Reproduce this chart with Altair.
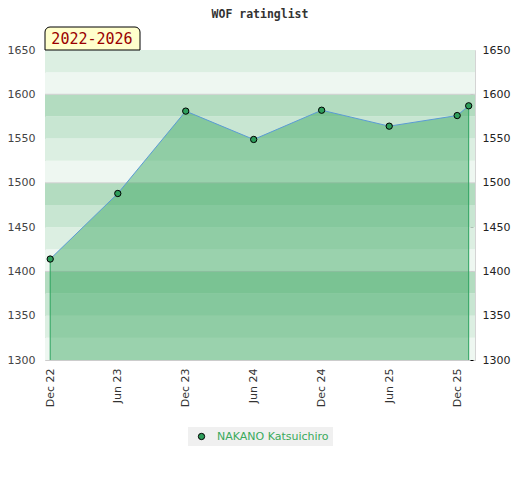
import altair as alt
import pandas as pd

# ---- data ----
dates = ["2022-12-01", "2023-06-01", "2023-12-01", "2024-06-01",
         "2024-12-01", "2025-06-01", "2025-12-01", "2026-01-01"]
ratings = [1414, 1488, 1581, 1549, 1582, 1564, 1576, 1587]
player = "NAKANO Katsuichiro"
period_label = "2022-2026"

band_lo = [1300, 1325, 1350, 1375, 1400, 1425, 1450, 1475,
           1500, 1525, 1550, 1575, 1600, 1625]
band_hi = [1325, 1350, 1375, 1400, 1425, 1450, 1475, 1500,
           1525, 1550, 1575, 1600, 1625, 1650]
band_shade = ["#eef7f1", "#dcefe2", "#c8e6d2", "#b3dcc0"] * 3 + ["#eef7f1", "#dcefe2"]
grid_levels = [1400, 1500, 1600]

y_labels = [1300, 1350, 1400, 1450, 1500, 1550, 1600, 1650]
y_minor = [1300, 1310, 1320, 1330, 1340, 1350, 1360, 1370, 1380, 1390,
           1400, 1410, 1420, 1430, 1440, 1450, 1460, 1470, 1480, 1490,
           1500, 1510, 1520, 1530, 1540, 1550, 1560, 1570, 1580, 1590,
           1600, 1610, 1620, 1630, 1640, 1650]
x_tick_months = [(2022, 12), (2023, 6), (2023, 12), (2024, 6),
                 (2024, 12), (2025, 6), (2025, 12)]

df = pd.DataFrame({"date": dates, "rating": ratings, "player": player})
edges = df.iloc[[0, len(df) - 1]]
bands = pd.DataFrame({"lo": band_lo, "hi": band_hi, "shade": band_shade})
grid = pd.DataFrame({"level": grid_levels})
label_df = pd.DataFrame({"label": [period_label]})

W, H = 430, 310
FONT = "DejaVu Sans"

yscale = alt.Scale(domain=[1300, 1650], zero=False, nice=False)
xscale = alt.Scale(type="utc", domain=[
    alt.DateTime(year=2022, month=11, date=17, utc=True),
    alt.DateTime(year=2026, month=1, date=18, utc=True)])
xaxis = alt.Axis(
    values=[alt.DateTime(year=y, month=m, date=1, utc=True) for y, m in x_tick_months],
    labelExpr="utcFormat(datum.value, '%b %y')",
    labelAngle=270, ticks=False, grid=False, title=None,
    domain=True, domainColor="#cccccc", labelPadding=8,
    labelFont=FONT, labelFontSize=11, labelColor="#333333")

band_layer = alt.Chart(bands).mark_rect().encode(
    x=alt.value(0), x2=alt.value(W),
    y=alt.Y("lo:Q", scale=yscale, axis=alt.Axis(
        orient="left", values=y_labels, format="d", ticks=False, domain=False,
        grid=False, title=None, labelPadding=10, labelFont=FONT, labelFontSize=11,
        labelColor="#444444")),
    y2="hi:Q",
    color=alt.Color("shade:N", scale=None),
)

grid_layer = alt.Chart(grid).mark_rule(color="#d0d0d0", strokeWidth=1).encode(
    y=alt.Y("level:Q", scale=yscale, axis=None),
    x=alt.value(0), x2=alt.value(W),
)

area_layer = alt.Chart(df).mark_area(color="#37a65d", opacity=0.46).encode(
    x=alt.X("date:T", scale=xscale, axis=xaxis),
    y=alt.Y("rating:Q", scale=yscale, axis=None),
    y2=alt.datum(1300),
)

edge_layer = alt.Chart(edges).mark_rule(color="#2ca25f", strokeWidth=1).encode(
    x=alt.X("date:T", scale=xscale, axis=xaxis),
    y=alt.Y("rating:Q", scale=yscale, axis=None),
    y2=alt.datum(1300),
)

line_layer = alt.Chart(df).mark_line(color="#5b9bd5", strokeWidth=1).encode(
    x=alt.X("date:T", scale=xscale, axis=xaxis),
    y=alt.Y("rating:Q", scale=yscale, axis=None),
)

point_layer = alt.Chart(df).mark_circle(
    size=40, opacity=1, stroke="black", strokeWidth=1).encode(
    x=alt.X("date:T", scale=xscale, axis=xaxis),
    y=alt.Y("rating:Q", scale=yscale, axis=None),
    color=alt.Color("player:N", scale=alt.Scale(range=["#2e9e5b"]), legend=alt.Legend(
        title=None, orient="none", legendX=143, legendY=377,
        fillColor="#f0f0f0", padding=4, symbolOffset=4, labelOffset=10,
        symbolType="circle", symbolSize=40, symbolStrokeColor="black",
        symbolStrokeWidth=1, labelColor="#3aaa5c", labelFont=FONT,
        labelFontSize=11)),
)

right_axis_layer = alt.Chart(df).mark_point(opacity=0).encode(
    y=alt.Y("rating:Q", scale=yscale, axis=alt.Axis(
        orient="right", values=y_minor, offset=-5, tickSize=3, tickColor="#000000",
        domain=False, grid=False, title=None, labelPadding=9,
        labelExpr="datum.value % 50 == 0 ? datum.value : ''",
        labelFont=FONT, labelFontSize=11, labelColor="#222222")),
)

box_layer = alt.Chart(label_df).mark_rect(
    fill="#ffffcc", stroke="black", strokeWidth=1,
    cornerRadiusTopLeft=5, cornerRadiusTopRight=5).encode(
    x=alt.value(0), x2=alt.value(95), y=alt.value(-23), y2=alt.value(0))

box_text = alt.Chart(label_df).mark_text(
    font="DejaVu Sans Mono", fontSize=15, color="#990000",
    align="center", baseline="alphabetic").encode(
    text="label:N", x=alt.value(47), y=alt.value(-6))

chart = alt.layer(
    band_layer, grid_layer, area_layer, edge_layer, line_layer, point_layer,
    right_axis_layer, box_layer, box_text
).resolve_scale(y="independent").properties(
    width=W, height=H,
    title=alt.TitleParams("WOF ratinglist", font="DejaVu Sans Mono", fontSize=11.5,
                          fontWeight="bold", color="#333333", offset=6,
                          anchor="middle"),
    autosize=alt.AutoSizeParams(type="none"),
    padding={"left": 37, "top": 42, "right": 37, "bottom": 100},
).configure_view(stroke="#d4d4d4", strokeWidth=1)

chart.save("out.html", embed_options={"renderer": "svg", "actions": False})
